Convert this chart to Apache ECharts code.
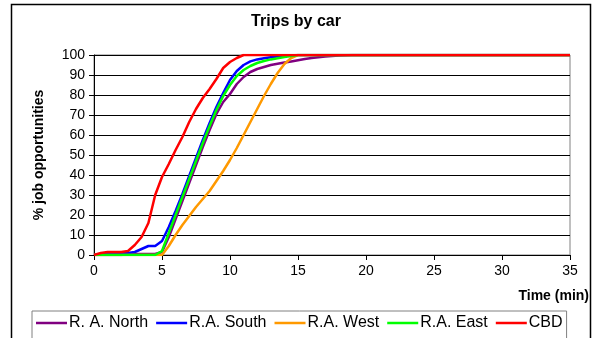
<!DOCTYPE html>
<html>
<head>
<meta charset="utf-8">
<script src="https://cdn.jsdelivr.net/npm/echarts@6/dist/echarts.min.js"></script>
<style>
  html, body { margin: 0; padding: 0; background: #fff; }
  #chart { width: 592px; height: 338px; }
</style>
</head>
<body>
<div id="chart"></div>
<script>
// minutes
const time = [0, 0.5, 1, 1.5, 2, 2.5, 3, 3.5, 4, 4.5, 5, 5.5, 6, 6.5, 7, 7.5, 8, 8.5, 9, 9.5,
  10, 10.5, 11, 11.5, 12, 12.5, 13, 13.5, 14, 14.5, 15, 15.5, 16, 17, 18, 19, 20, 35];

// % job opportunities reached
const raNorth = [0, 0, 0, 0, 0, 0.5, 0.5, 0.5, 0.5, 0.5, 1.5, 9, 18, 27, 36, 45, 54, 62.5, 70.5, 76.5,
  80.5, 85.5, 89, 91.5, 93, 94, 95, 95.6, 96.2, 96.8, 97.4, 98, 98.5, 99.2, 99.7, 100, 100, 100];
const raSouth = [0, 0.5, 1, 1, 1, 1, 1.5, 3, 4.5, 4.5, 7, 14, 22, 30.5, 39.5, 48.5, 57.5, 66, 74, 81,
  87.5, 92, 95, 96.8, 97.8, 98.4, 98.9, 99.2, 99.5, 99.8, 100, 100, 100, 100, 100, 100, 100, 100];
const raWest = [0, 0, 0, 0, 0, 0, 0, 0, 0, 0, 0, 4.5, 10, 15, 19.5, 24, 28, 32, 37, 42,
  47.5, 53.5, 60, 66.5, 73, 79.5, 85.5, 91, 95.5, 98.5, 100, 100, 100, 100, 100, 100, 100, 100];
const raEast = [0, 0, 0, 0, 0, 0, 0, 0, 0, 0, 2, 11, 20, 29, 38, 47, 56, 64.5, 72.5, 79.5,
  85, 89.5, 92.5, 94.5, 96, 97, 97.8, 98.4, 99, 99.5, 100, 100, 100, 100, 100, 100, 100, 100];
const cbd = [0, 1, 1.5, 1.5, 1.5, 2, 5, 9, 16, 30, 39, 45.5, 52.5, 59, 66.5, 73, 78.5, 83, 88, 93.5,
  96.5, 98.5, 100, 100, 100, 100, 100, 100, 100, 100, 100, 100, 100, 100, 100, 100, 100, 100];

const seriesNames = ['R. A. North', 'R.A. South', 'R.A. West', 'R.A. East', 'CBD'];
const seriesValues = [raNorth, raSouth, raWest, raEast, cbd];
const colors = ['#800080', '#0000ff', '#ff9900', '#00ff00', '#ff0000'];

const font = '"Liberation Sans", Arial, sans-serif';

const chart = echarts.init(document.getElementById('chart'));

chart.setOption({
  animation: false,
  textStyle: { fontFamily: font },
  title: {
    text: 'Trips by car',
    left: 'center',
    top: 9,
    textStyle: { fontSize: 16, fontWeight: 'bold', color: '#000', fontFamily: font }
  },
  graphic: [{
    type: 'rect',
    shape: { x: 11.5, y: 4.5, width: 579, height: 345 },
    style: { fill: 'none', stroke: '#000', lineWidth: 1.5 },
    silent: true,
    z: -1
  }],
  legend: {
    left: 32,
    top: 311,
    icon: 'rect',
    itemWidth: 31,
    itemHeight: 2.5,
    itemGap: 8,
    padding: [4, 4, 30, 4],
    borderColor: '#808080',
    borderWidth: 1,
    textStyle: { fontSize: 16, color: '#000', fontFamily: font, padding: [0, 0, 0, -3] },
    data: seriesNames
  },
  grid: {
    left: 94,
    right: 21,
    top: 55,
    bottom: 83,
    show: true,
    borderColor: '#808080',
    borderWidth: 1
  },
  xAxis: {
    type: 'value',
    min: 0,
    max: 35,
    interval: 5,
    name: 'Time (min)',
    nameLocation: 'end',
    nameGap: 0,
    nameTextStyle: {
      fontSize: 14, fontWeight: 'bold', color: '#000', fontFamily: font,
      align: 'right', verticalAlign: 'top', padding: [34, -19, 0, 0]
    },
    axisLine: { lineStyle: { color: '#000', width: 1 } },
    axisTick: { show: true, length: 5, lineStyle: { color: '#000' } },
    axisLabel: { fontSize: 14, color: '#000', margin: 9 },
    splitLine: { show: false }
  },
  yAxis: {
    type: 'value',
    min: 0,
    max: 100,
    interval: 10,
    name: '% job opportunities',
    nameLocation: 'middle',
    nameGap: 48,
    nameTextStyle: { fontSize: 14, fontWeight: 'bold', color: '#000', fontFamily: font },
    axisLine: { show: true, lineStyle: { color: '#000', width: 1 } },
    axisTick: { show: true, length: 5, lineStyle: { color: '#000' } },
    axisLabel: { fontSize: 14, color: '#000', margin: 9 },
    splitLine: { show: true, lineStyle: { color: '#000', width: 1 } }
  },
  series: seriesNames.map((name, i) => ({
    name: name,
    type: 'line',
    showSymbol: false,
    symbol: 'none',
    color: colors[i],
    lineStyle: { width: 2.5, color: colors[i] },
    z: 2 + i,
    data: time.map((t, j) => [t, seriesValues[i][j]])
  }))
});
</script>
</body>
</html>
